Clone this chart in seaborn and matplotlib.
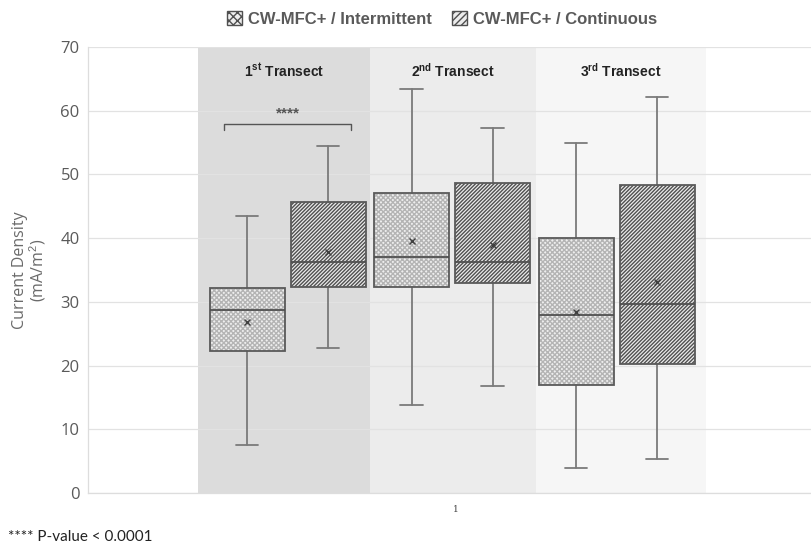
import matplotlib
matplotlib.use("Agg")
import matplotlib.pyplot as plt
from matplotlib.patches import Patch, PathPatch
import seaborn as sns

# Summary statistics per transect (current density, mA/m2)
transects = ["1st", "2nd", "3rd"]
transect_labels = [r"$\mathbf{1^{st}}$ Transect",
                   r"$\mathbf{2^{nd}}$ Transect",
                   r"$\mathbf{3^{rd}}$ Transect"]
series_names = ["CW-MFC+ / Intermittent", "CW-MFC+ / Continuous"]

int_low = [7.5, 13.8, 4.0]
int_q1 = [22.3, 32.3, 16.9]
int_med = [28.8, 37.0, 28.0]
int_q3 = [32.2, 47.1, 40.1]
int_high = [43.5, 63.4, 55.0]
int_mean = [26.8, 39.6, 28.4]

con_low = [22.7, 16.8, 5.4]
con_q1 = [32.3, 33.0, 20.2]
con_med = [36.2, 36.2, 29.7]
con_q3 = [45.7, 48.7, 48.4]
con_high = [54.5, 57.3, 62.2]
con_mean = [37.9, 39.0, 33.1]

y_ticks = [0, 10, 20, 30, 40, 50, 60, 70]
x_tick_labels = ["1"]
significance = "****"
footnote = "**** P-value < 0.0001"

sns.set_theme(style="whitegrid")
plt.rcParams["font.family"] = ["Liberation Sans", "DejaVu Sans"]
plt.rcParams["mathtext.fontset"] = "custom"
plt.rcParams["mathtext.rm"] = "Liberation Sans"
plt.rcParams["mathtext.bf"] = "Liberation Sans:bold"
plt.rcParams["hatch.linewidth"] = 1.0

fig = plt.figure(figsize=(8.12, 5.48), dpi=100)
ax = fig.add_axes([88 / 812, 1 - 493 / 548, 1 - 88 / 812, (493 - 47) / 548])

# shaded transect bands
band_edges = [-0.545, 0.50, 1.51, 2.545]
band_colors = ["#dcdcdc", "#ececec", "#f6f6f6"]
for i, c in enumerate(band_colors):
    ax.axvspan(band_edges[i], band_edges[i + 1], color=c, zorder=0, lw=0)

def stats(low, q1, med, q3, high, mean):
    return [dict(whislo=low[i], q1=q1[i], med=med[i], q3=q3[i],
                 whishi=high[i], mean=mean[i], fliers=[])
            for i in range(len(low))]

offset = 0.246
width = 0.456
styles = [
    dict(face="#eeeeee", hatch="x" * 7, hcolor="#b4b4b4", lhatch="xxxx"),
    dict(face="#ececec", hatch="/" * 9, hcolor="#505050", lhatch="/////"),
]
groups = [
    stats(int_low, int_q1, int_med, int_q3, int_high, int_mean),
    stats(con_low, con_q1, con_med, con_q3, con_high, con_mean),
]
for k, st in enumerate(groups):
    pos = [i + (-offset if k == 0 else offset) for i in range(len(transects))]
    res = ax.bxp(st, positions=pos, widths=width, patch_artist=True,
                 showmeans=True, showfliers=False, capwidths=0.138,
                 whiskerprops=dict(color="#7a7a7a", lw=1.3),
                 capprops=dict(color="#7a7a7a", lw=1.3),
                 medianprops=dict(color="#505050", lw=1.3),
                 meanprops=dict(marker="x", markersize=5, markeredgecolor="#404040",
                                markeredgewidth=1.0),
                 zorder=3)
    for b in res["boxes"]:
        b.set_facecolor(styles[k]["face"])
        b.set_hatch(styles[k]["hatch"])
        b.set_edgecolor(styles[k]["hcolor"])
        b.set_linewidth(0)
        ax.add_patch(PathPatch(b.get_path(), facecolor="none", edgecolor="#5a5a5a",
                               lw=1.3, zorder=3.5))
    for m in res["medians"]:
        m.set_zorder(4)
    for m in res["means"]:
        m.set_zorder(4)

ax.set_xlim(-1.213, 3.188)
ax.set_ylim(0, 70)
ax.set_yticks(y_ticks)
ax.set_xticks([1.02])
ax.set_xticklabels(x_tick_labels, fontsize=6.5, color="#444444",
                   family=["DejaVu Serif"])
ax.tick_params(axis="x", length=0, pad=9)
ax.tick_params(axis="y", length=0, pad=6, labelsize=12, labelcolor="#5a5a5a")
for t in ax.get_yticklabels():
    t.set_family(["Open Sans", "DejaVu Sans"])
ax.grid(axis="y", color="#e2e2e2", lw=0.9)
ax.grid(axis="x", visible=False)
ax.set_axisbelow(True)
ax.set_facecolor("white")
for s in ["top", "right"]:
    ax.spines[s].set_visible(False)
for s in ["left", "bottom"]:
    ax.spines[s].set_color("#dddddd")
    ax.spines[s].set_linewidth(0.9)

ax.set_ylabel("Current Density\n(mA/m$^2$)", fontsize=11.5, color="#6a6a6a",
              family=["Open Sans", "DejaVu Sans"], labelpad=9, linespacing=0.95)

# transect titles
centers = [(band_edges[i] + band_edges[i + 1]) / 2 for i in range(3)]
for c, lab in zip(centers, transect_labels):
    ax.text(c, 66.3, lab, ha="center", va="center", fontsize=10,
            fontweight="bold", color="#222222")

# significance bracket for first transect
y_br = 57.9
ax.plot([-offset - 0.14, -offset - 0.14, offset + 0.14, offset + 0.14],
        [y_br - 1.0, y_br, y_br, y_br - 1.0], color="#555555", lw=1.0, zorder=5)
ax.text(0, y_br + 0.5, significance, ha="center", va="bottom", fontsize=11,
        fontweight="bold", color="#555555")

handles = [Patch(facecolor=styles[k]["face"], hatch=styles[k]["lhatch"],
                 edgecolor="#505050", lw=1.0) for k in range(2)]
fig.legend(handles, series_names, loc="center", bbox_to_anchor=(442 / 812, 1 - 19 / 548),
           ncol=2, frameon=False, handlelength=0.9, handleheight=0.9,
           handletextpad=0.35, columnspacing=1.2,
           prop=dict(family="Liberation Sans", weight="bold", size=12),
           labelcolor="#5a5a5a")

fig.text(8 / 812, 1 - 537 / 548, footnote, fontsize=11, color="#222222",
         family=["Lato", "DejaVu Sans"], va="center", ha="left")

fig.savefig("out.png", dpi=100)
